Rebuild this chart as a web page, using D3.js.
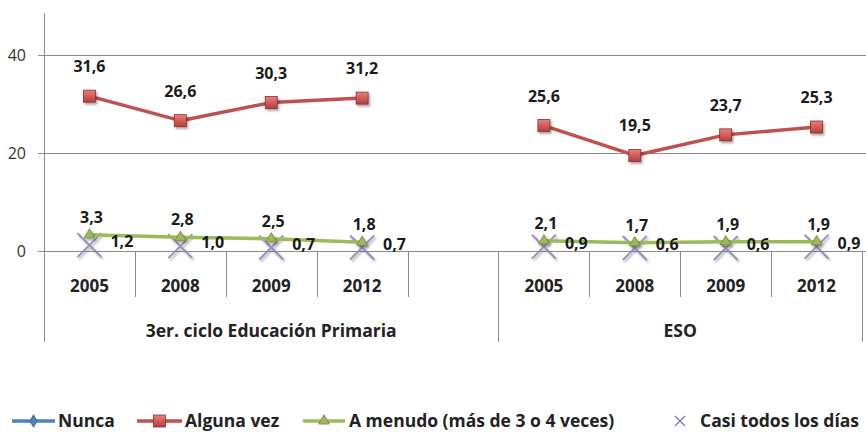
<!DOCTYPE html>
<html>
<head>
<meta charset="utf-8">
<script src="https://cdn.jsdelivr.net/npm/d3@7"></script>
<style>
  html, body { margin: 0; padding: 0; background: #fff; }
  svg { display: block; }
  text { font-family: "Open Sans", Lato, sans-serif; }
</style>
</head>
<body>
<svg id="chart" width="866" height="432"></svg>
<script>
// Survey years shown under each school stage
const years = ["2005", "2008", "2009", "2012"];
const groups = ["3er. ciclo Educación Primaria", "ESO"];

// Percentages per stage (Primaria first, then ESO), in the same order as years
const algunaVez = [[31.6, 26.6, 30.3, 31.2], [25.6, 19.5, 23.7, 25.3]];
const aMenudo   = [[3.3, 2.8, 2.5, 1.8],     [2.1, 1.7, 1.9, 1.9]];
const casiTodos = [[1.2, 1.0, 0.7, 0.7],     [0.9, 0.6, 0.6, 0.9]];

const yTicks = [0, 20, 40];
const legendItems = ["Nunca", "Alguna vez", "A menudo (más de 3 o 4 veces)", "Casi todos los días"];

const colors = { nunca: "#4f81bd", alguna: "#c0504d", menudo: "#9bbb59", casi: "#8a7fb8" };

const svg = d3.select("#chart");
const fmt = v => d3.format(".1f")(v).replace(".", ",");

// Layout
const plotLeft = 44, plotRight = 862, plotTop = 13;
const yZero = 251;
const y = d3.scaleLinear().domain([0, 40]).range([yZero, 55]);

// Category slots: four years per stage, with one empty slot closing the first stage
const slots = [];
years.forEach(yr => slots.push("P-" + yr));
slots.push("P-gap");
years.forEach(yr => slots.push("E-" + yr));
const x = d3.scaleBand().domain(slots).range([plotLeft, plotRight]).padding(0);
const bw = x.bandwidth();
const slotKey = (g, i) => (g === 0 ? "P-" : "E-") + years[i];
const cx = (g, i) => x(slotKey(g, i)) + bw / 2;

// Shadow for markers
const defs = svg.append("defs");
const sh = defs.append("filter").attr("id", "shadow").attr("x", "-50%").attr("y", "-50%").attr("width", "200%").attr("height", "200%");
sh.append("feDropShadow").attr("dx", 1.5).attr("dy", 2).attr("stdDeviation", 1.3).attr("flood-color", "#000").attr("flood-opacity", 0.35);
const redGrad = defs.append("linearGradient").attr("id", "redGrad").attr("x1", 0).attr("y1", 0).attr("x2", 0).attr("y2", 1);
redGrad.append("stop").attr("offset", "0%").attr("stop-color", "#e8807d");
redGrad.append("stop").attr("offset", "100%").attr("stop-color", "#b83c39");

// Horizontal gridlines and value axis
const yAxis = d3.axisLeft(y).tickValues(yTicks).tickSize(6).tickFormat(d3.format("d"));
const gy = svg.append("g").attr("transform", `translate(${plotLeft},0)`).call(yAxis);
gy.select(".domain").remove();
gy.selectAll(".tick line").attr("stroke", "#8c8c8c");
gy.selectAll(".tick text").attr("x", -18).attr("font-size", 16).attr("fill", "#333")
  .attr("font-family", "'Open Sans', sans-serif");
svg.append("g").selectAll("line").data(yTicks).join("line")
  .attr("x1", plotLeft).attr("x2", 866)
  .attr("y1", d => y(d) + 0.5).attr("y2", d => y(d) + 0.5)
  .attr("stroke", "#8c8c8c").attr("stroke-width", 1);

// Vertical value axis line, running down through the category area
svg.append("line").attr("x1", plotLeft + 0.5).attr("x2", plotLeft + 0.5)
  .attr("y1", plotTop).attr("y2", 342).attr("stroke", "#8c8c8c");

// Category separators: short between years, long at stage boundaries
const bounds = d3.range(1, slots.length + 1);
svg.append("g").selectAll("line").data(bounds).join("line")
  .attr("x1", i => Math.round(plotLeft + i * bw) + 0.5)
  .attr("x2", i => Math.round(plotLeft + i * bw) + 0.5)
  .attr("y1", yZero)
  .attr("y2", i => (i === 5 || i === 9) ? 342 : 297)
  .attr("stroke", "#8c8c8c");

// Year labels
[0, 1].forEach(g => {
  svg.append("g").selectAll("text").data(years).join("text")
    .attr("x", (d, i) => cx(g, i)).attr("y", 292)
    .attr("text-anchor", "middle").attr("font-size", 17).attr("font-weight", 700).attr("fill", "#222")
    .text(d => d);
});

// Stage labels
const stageSpan = [[plotLeft, plotLeft + 5 * bw], [plotLeft + 5 * bw, plotRight]];
svg.append("g").selectAll("text").data(groups).join("text")
  .attr("x", (d, g) => (stageSpan[g][0] + stageSpan[g][1]) / 2).attr("y", 337)
  .attr("text-anchor", "middle").attr("font-size", 17.5).attr("font-weight", 700).attr("fill", "#222")
  .text(d => d);

const line = d3.line().x(d => d.x).y(d => d.y);
const pts = (arr, g) => arr[g].map((v, i) => ({ x: cx(g, i), y: y(v), v }));

// "Casi todos los días": cross markers only
[0, 1].forEach(g => {
  const p = pts(casiTodos, g);
  const gg = svg.append("g").attr("filter", "url(#shadow)");
  gg.selectAll("path").data(p).join("path")
    .attr("d", d => `M${d.x - 12},${d.y - 12}L${d.x + 12},${d.y + 12}M${d.x - 12},${d.y + 12}L${d.x + 12},${d.y - 12}`)
    .attr("stroke", colors.casi).attr("stroke-width", 2).attr("fill", "none").attr("opacity", 0.85);
});

// "A menudo": green line with triangles
[0, 1].forEach(g => {
  const p = pts(aMenudo, g);
  svg.append("path").datum(p).attr("d", line).attr("fill", "none")
    .attr("stroke", colors.menudo).attr("stroke-width", 3.5).attr("stroke-linejoin", "round");
  svg.append("g").attr("filter", "url(#shadow)").selectAll("path").data(p).join("path")
    .attr("d", d3.symbol(d3.symbolTriangle, 50))
    .attr("transform", d => `translate(${d.x},${d.y})`)
    .attr("fill", colors.menudo).attr("stroke", "#71893f").attr("stroke-width", 0.8);
});

// "Alguna vez": red line with squares
[0, 1].forEach(g => {
  const p = pts(algunaVez, g);
  svg.append("path").datum(p).attr("d", line).attr("fill", "none")
    .attr("stroke", colors.alguna).attr("stroke-width", 3.5).attr("stroke-linejoin", "round");
  svg.append("g").attr("filter", "url(#shadow)").selectAll("rect").data(p).join("rect")
    .attr("x", d => d.x - 6).attr("y", d => d.y - 6).attr("width", 12).attr("height", 12)
    .attr("fill", "url(#redGrad)").attr("stroke", "#8c2f2d").attr("stroke-width", 0.8);
});

// Data labels
const labelStyle = sel => sel.attr("font-size", 16).attr("font-weight", 700).attr("fill", "#1a1a1a");
[0, 1].forEach(g => {
  svg.append("g").selectAll("text").data(pts(algunaVez, g)).join("text")
    .attr("x", d => d.x).attr("y", d => d.y - 24).attr("text-anchor", "middle")
    .call(labelStyle).text(d => fmt(d.v));
  svg.append("g").selectAll("text").data(pts(aMenudo, g)).join("text")
    .attr("x", d => d.x + 2).attr("y", d => d.y - 12).attr("text-anchor", "middle")
    .call(labelStyle).text(d => fmt(d.v));
  svg.append("g").selectAll("text").data(pts(casiTodos, g)).join("text")
    .attr("x", d => d.x + 21).attr("y", d => d.y + 2).attr("text-anchor", "start")
    .call(labelStyle).text(d => fmt(d.v));
});

// Legend
const ly = 421;
const lg = svg.append("g");
const legendPos = [
  { lx1: 12, lx2: 55, tx: 58 },
  { lx1: 137, lx2: 182, tx: 185 },
  { lx1: 303, lx2: 345, tx: 349 },
  { lx1: null, lx2: null, tx: 700, mx: 680 }
];
const legendColors = [colors.nunca, colors.alguna, colors.menudo, colors.casi];
legendItems.forEach((name, i) => {
  const p = legendPos[i];
  if (p.lx1 !== null) {
    lg.append("line").attr("x1", p.lx1).attr("x2", p.lx2).attr("y1", ly).attr("y2", ly)
      .attr("stroke", legendColors[i]).attr("stroke-width", 3.5);
    const mx = (p.lx1 + p.lx2) / 2;
    if (i === 0) {
      lg.append("path").attr("d", d3.symbol(d3.symbolDiamond, 45)).attr("transform", `translate(${mx},${ly})`)
        .attr("fill", colors.nunca).attr("stroke", "#385d8a").attr("stroke-width", 0.8);
    } else if (i === 1) {
      lg.append("rect").attr("x", mx - 6).attr("y", ly - 6).attr("width", 12).attr("height", 12)
        .attr("fill", "url(#redGrad)").attr("stroke", "#8c2f2d").attr("stroke-width", 0.8);
    } else {
      lg.append("path").attr("d", d3.symbol(d3.symbolTriangle, 50)).attr("transform", `translate(${mx},${ly})`)
        .attr("fill", colors.menudo).attr("stroke", "#71893f").attr("stroke-width", 0.8);
    }
  } else {
    lg.append("path").attr("d", `M${p.mx - 5},${ly - 5}L${p.mx + 5},${ly + 5}M${p.mx - 5},${ly + 5}L${p.mx + 5},${ly - 5}`)
      .attr("stroke", colors.casi).attr("stroke-width", 1.5);
  }
  lg.append("text").attr("x", p.tx).attr("y", ly + 6).attr("font-size", 17.5).attr("font-weight", 700)
    .attr("fill", "#222").text(name);
});
</script>
</body>
</html>
